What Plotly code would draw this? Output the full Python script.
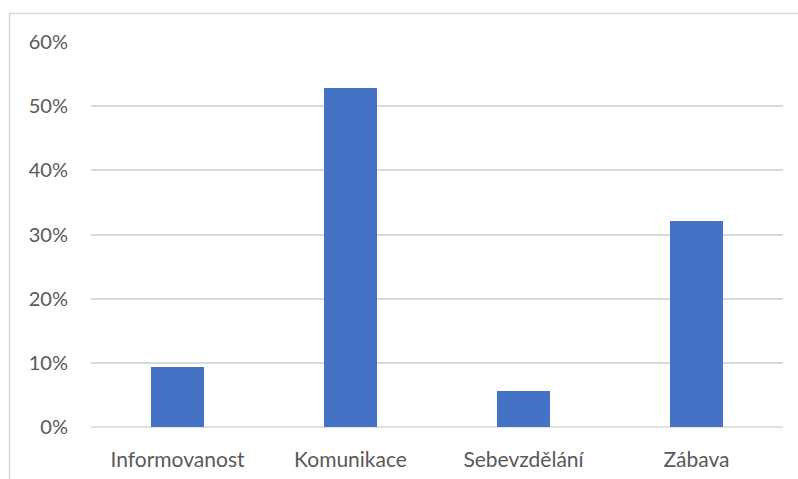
import plotly.graph_objects as go

categories = ["Informovanost", "Komunikace", "Sebevzdělání", "Zábava"]
values = [0.094, 0.528, 0.056, 0.321]
tick_vals = [0, 0.1, 0.2, 0.3, 0.4, 0.5, 0.6]
tick_text = ["0%", "10%", "20%", "30%", "40%", "50%", "60%"]

fig = go.Figure(go.Bar(
    x=categories, y=values,
    marker=dict(color="#4472C4", line=dict(width=0)),
    width=0.31,
))

W, H = 798, 479
L, R, T, B = 91, 15, 42, 52
pw, ph = W - L - R, H - T - B

def px2x(px):
    return (px - L) / pw

def py2y(py):
    return 1 - (py - T) / ph

border = "#D9D9D9"
fig.update_layout(
    width=W, height=H,
    margin=dict(l=L, r=R, t=T, b=B, pad=0),
    paper_bgcolor="white", plot_bgcolor="white",
    font=dict(family="Lato, Carlito, 'Open Sans', sans-serif", size=18, color="#595959"),
    showlegend=False,
    bargap=0,
    xaxis=dict(showgrid=False, showline=False, zeroline=False, ticks="",
               automargin=False,
               ticklabelstandoff=18, tickfont=dict(size=21)),
    yaxis=dict(range=[0, 0.6], tickvals=tick_vals, ticktext=tick_text,
               automargin=False,
               showgrid=True, gridcolor=border, gridwidth=1.5,
               zeroline=False, showline=False, ticks="",
               ticklabelstandoff=22, tickfont=dict(size=20)),
    shapes=[
        dict(type="line", xref="paper", yref="paper",
             x0=px2x(9.5), x1=px2x(9.5), y0=py2y(13), y1=py2y(490),
             line=dict(color=border, width=1.5)),
        dict(type="line", xref="paper", yref="paper",
             x0=px2x(9.5), x1=px2x(810), y0=py2y(13.5), y1=py2y(13.5),
             line=dict(color=border, width=1.5)),
        dict(type="line", xref="paper", yref="paper",
             x0=0, x1=1, y0=0, y1=0,
             line=dict(color=border, width=1.5), layer="below"),
    ],
)

fig.write_html("out.html", config={"displayModeBar": False},
               post_script="document.body.style.margin='0';document.body.style.overflow='hidden';")
